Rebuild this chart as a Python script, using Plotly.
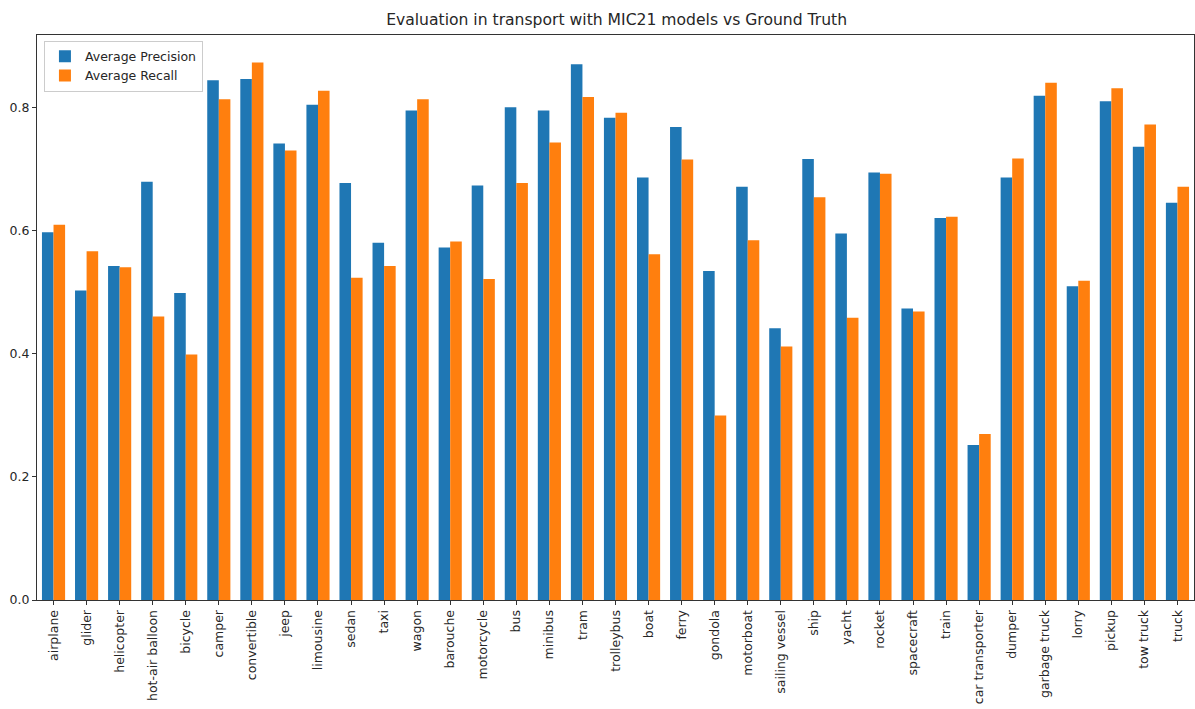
import plotly.graph_objects as go

categories = [
    "airplane", "glider", "helicopter", "hot-air balloon", "bicycle", "camper",
    "convertible", "jeep", "limousine", "sedan", "taxi", "wagon", "barouche",
    "motorcycle", "bus", "minibus", "tram", "trolleybus", "boat", "ferry",
    "gondola", "motorboat", "sailing vessel", "ship", "yacht", "rocket",
    "spacecraft", "train", "car transporter", "dumper", "garbage truck",
    "lorry", "pickup", "tow truck", "truck",
]

avg_precision = [
    0.598, 0.503, 0.543, 0.680, 0.499, 0.845,
    0.847, 0.742, 0.805, 0.678, 0.581, 0.796, 0.573,
    0.674, 0.801, 0.796, 0.871, 0.784, 0.687, 0.769,
    0.535, 0.672, 0.442, 0.717, 0.596, 0.695,
    0.474, 0.621, 0.252, 0.687, 0.820,
    0.510, 0.811, 0.737, 0.646,
]

avg_recall = [
    0.610, 0.567, 0.541, 0.461, 0.399, 0.814,
    0.874, 0.731, 0.828, 0.524, 0.543, 0.814, 0.583,
    0.522, 0.678, 0.744, 0.818, 0.792, 0.562, 0.716,
    0.300, 0.585, 0.412, 0.655, 0.459, 0.693,
    0.469, 0.623, 0.270, 0.718, 0.841,
    0.519, 0.832, 0.773, 0.672,
]

y_ticks = [0.0, 0.2, 0.4, 0.6, 0.8]

FONT = "DejaVu Sans"
TEXT = "#262626"

fig = go.Figure()
fig.add_trace(go.Bar(
    x=categories, y=avg_precision, name="Average Precision",
    marker=dict(color="#1f77b4", line=dict(width=0)),
))
fig.add_trace(go.Bar(
    x=categories, y=avg_recall, name="Average Recall",
    marker=dict(color="#ff7f0e", line=dict(width=0)),
))

fig.update_layout(
    width=1195, height=709,
    margin=dict(l=37, r=1, t=35, b=109),
    paper_bgcolor="white", plot_bgcolor="white",
    barmode="group", bargap=0.3, bargroupgap=0.0,
    font=dict(family=FONT, size=12.5, color=TEXT),
    title=dict(
        text="Evaluation in transport with MIC21 models vs Ground Truth",
        x=0.516, xanchor="center", y=1 - 20 / 709, yanchor="middle",
        font=dict(family=FONT, size=15.6, color=TEXT),
    ),
    legend=dict(
        x=0.006, y=0.99, xanchor="left", yanchor="top",
        bgcolor="rgba(255,255,255,0.8)", bordercolor="#cccccc", borderwidth=1,
        font=dict(family=FONT, size=12.5, color=TEXT),
        tracegroupgap=0, itemwidth=30,
    ),
    showlegend=True,
)

fig.update_xaxes(
    type="category", range=[-0.5, len(categories) - 0.5],
    tickangle=-90, ticks="outside", ticklen=4, tickcolor="#333333",
    showline=True, mirror=True, linecolor="#333333", linewidth=1,
    showgrid=False, zeroline=False,
    tickfont=dict(family=FONT, size=12.5, color=TEXT),
)
fig.update_yaxes(
    range=[0, 0.9186], tickvals=y_ticks,
    ticktext=[f"{v:.1f}" for v in y_ticks],
    ticks="outside", ticklen=4, tickcolor="#333333",
    showline=True, mirror=True, linecolor="#333333", linewidth=1,
    showgrid=False, zeroline=False,
    tickfont=dict(family=FONT, size=12.5, color=TEXT),
)

fig.write_html("out.html")
